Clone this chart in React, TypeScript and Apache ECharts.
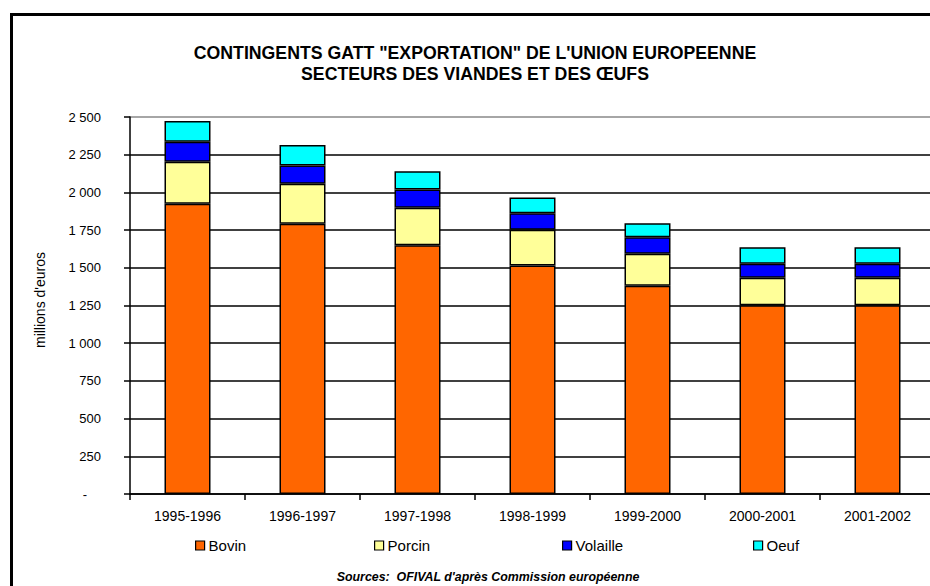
import React, { useEffect, useRef } from "react";
import * as echarts from "echarts";

const categories = ["1995-1996", "1996-1997", "1997-1998", "1998-1999", "1999-2000", "2000-2001", "2001-2002"];
const bovin = [1925, 1792, 1649, 1516, 1381, 1251, 1251];
const porcin = [278, 265, 249, 236, 212, 183, 183];
const volaille = [133, 122, 122, 109, 109, 93, 93];
const oeuf = [137, 135, 121, 106, 93, 109, 109];
const seriesNames = ["Bovin", "Porcin", "Volaille", "Oeuf"];
const seriesColors = ["#FF6600", "#FFFF99", "#0000FF", "#00FFFF"];
const legendX = [195, 374, 562, 753];

const FONT = "Liberation Sans, Arial, sans-serif";

export default function App() {
  const ref = useRef<HTMLDivElement>(null);
  useEffect(() => {
    if (!ref.current) return;
    document.body.style.margin = "0";
    document.body.style.overflow = "hidden";
    const chart = echarts.init(ref.current, null, { renderer: "svg" });
    const values = [bovin, porcin, volaille, oeuf];
    const gridColors = ["#000", "#000", "#000", "#000", "#000", "#000", "#000", "#000", "#000", "#000", "#888"];
    chart.setOption({
      animation: false,
      backgroundColor: "#fff",
      textStyle: { fontFamily: FONT },
      title: {
        text: "CONTINGENTS GATT \"EXPORTATION\" DE L'UNION EUROPEENNE\nSECTEURS DES VIANDES ET DES ŒUFS",
        left: 470,
        top: 37,
        textAlign: "center",
        textStyle: { fontFamily: FONT, fontSize: 17.7, fontWeight: "bold", color: "#000", lineHeight: 21 },
      },
      legend: seriesNames.map((n, i) => ({
        data: [n],
        left: legendX[i],
        top: 538,
        icon: "rect",
        itemWidth: 9,
        itemHeight: 9,
        itemGap: 4,
        padding: 0,
        itemStyle: { borderColor: "#000", borderWidth: 1.2 },
        textStyle: { fontFamily: FONT, fontSize: 15, color: "#000", padding: [0, 0, 0, -1] },
        selectedMode: false,
      })),
      grid: { left: 130, top: 117, width: 805, height: 377, containLabel: false, outerBoundsMode: "none" },
      xAxis: {
        type: "category",
        data: categories,
        axisLine: { lineStyle: { color: "#000", width: 1.5 } },
        axisTick: { show: true, length: 6, lineStyle: { color: "#000", width: 1.5 } },
        axisLabel: { color: "#000", fontSize: 14, margin: 15, fontFamily: FONT },
      },
      yAxis: {
        type: "value",
        min: 0,
        max: 2500,
        interval: 250,
        axisLine: { show: true, lineStyle: { color: "#000", width: 1.5 } },
        axisTick: { show: true, length: 6, lineStyle: { color: "#000", width: 1.5 } },
        axisLabel: {
          color: "#000",
          fontSize: 13,
          margin: 29,
          fontFamily: FONT,
          formatter: (v: number) => (v === 0 ? "{d|-}" : String(v).replace(/\B(?=(\d{3})+(?!\d))/g, " ")),
          rich: { d: { fontSize: 13, color: "#000", padding: [0, 14, 0, 0] } },
        },
        splitLine: { show: true, lineStyle: { color: gridColors, width: 1.5 } },
      },
      series: seriesNames.map((n, i) => ({
        name: n,
        type: "bar",
        stack: "total",
        barWidth: "40%",
        data: values[i],
        itemStyle: { color: seriesColors[i], borderColor: "#000", borderWidth: 1.5 },
      })),
      graphic: [
        {
          type: "line",
          z: 1000,
          shape: { x1: 10, y1: 14.5, x2: 930, y2: 14.5 },
          style: { stroke: "#000", lineWidth: 3 },
          silent: true,
        },
        {
          type: "line",
          z: 1000,
          shape: { x1: 11.5, y1: 13, x2: 11.5, y2: 586 },
          style: { stroke: "#000", lineWidth: 3 },
          silent: true,
        },
        {
          type: "text",
          x: 40,
          y: 300,
          rotation: Math.PI / 2,
          style: { text: "millions d'euros", fontFamily: FONT, fontSize: 14, fill: "#000", align: "center", verticalAlign: "middle" },
        },
        {
          type: "text",
          x: 488,
          y: 577,
          style: {
            text: "Sources:  OFIVAL d'après Commission européenne",
            fontFamily: FONT,
            fontSize: 12.4,
            fontWeight: "bold",
            fontStyle: "italic",
            fill: "#000",
            align: "center",
            verticalAlign: "middle",
          },
        },
      ],
    });
    return () => chart.dispose();
  }, []);
  return <div ref={ref} style={{ width: 930, height: 586, position: "absolute", left: 0, top: 0 }} />;
}
